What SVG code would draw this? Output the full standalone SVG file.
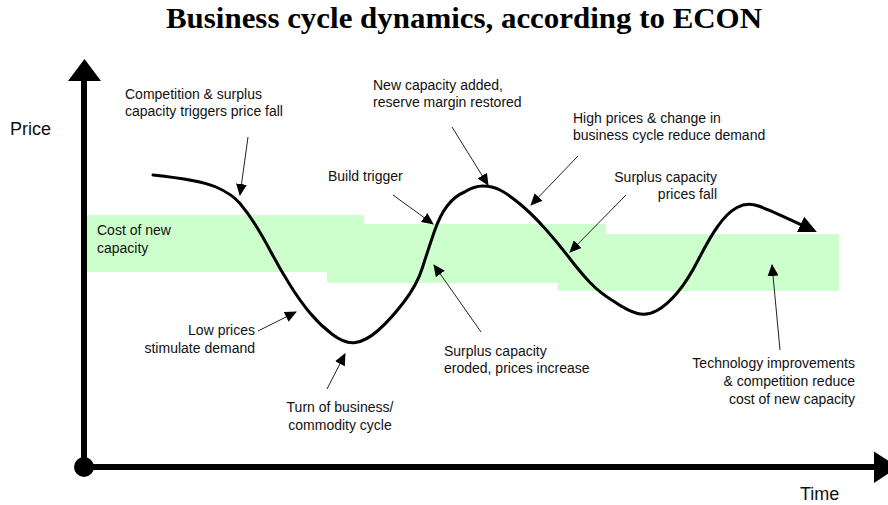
<svg xmlns="http://www.w3.org/2000/svg" width="888" height="505" viewBox="0 0 888 505">
  <defs>
    <style>
      .title { font-family: "Liberation Serif", "Times New Roman", serif; font-weight: bold; font-size: 29px; fill: #000; }
      .lbl { font-family: "Liberation Sans", Arial, sans-serif; font-size: 14px; fill: #111; }
      .axis-lbl { font-family: "Liberation Sans", Arial, sans-serif; font-size: 18px; fill: #111; }
      .band { fill: #ccffcc; }
      .axis { stroke: #000; stroke-width: 6; fill: none; }
      .curve { stroke: #000; stroke-width: 3; fill: none; stroke-linecap: round; stroke-linejoin: round; }
      .note { stroke: #222; stroke-width: 1; fill: none; }
      .end { text-anchor: end; }
      .mid { text-anchor: middle; }
    </style>
    <marker id="tip" viewBox="0 0 12 11" refX="11" refY="5.5" markerWidth="12" markerHeight="11" markerUnits="userSpaceOnUse" orient="auto">
      <path d="M0,0 L12,5.5 L0,11 z" fill="#000"/>
    </marker>
    <marker id="bigtip" viewBox="0 0 18 17" refX="6" refY="8.5" markerWidth="18" markerHeight="17" markerUnits="userSpaceOnUse" orient="auto">
      <path d="M0,0 L18,8.5 L0,17 z" fill="#000"/>
    </marker>
  </defs>

  <rect width="888" height="505" fill="#fff"/>

  <text class="title" x="166" y="28" textLength="596" lengthAdjust="spacingAndGlyphs">Business cycle dynamics, according to ECON</text>

  <!-- cost-of-new-capacity bands, stepping down over time -->
  <g id="cost-bands">
    <rect class="band" x="87" y="215" width="277" height="57"/>
    <rect class="band" x="327" y="224" width="279" height="59"/>
    <rect class="band" x="558" y="234" width="281" height="57"/>
    <text class="lbl" x="97" y="235">Cost of new</text>
    <text class="lbl" x="97" y="253">capacity</text>
  </g>

  <!-- axes -->
  <g id="axes">
    <line class="axis" x1="84" y1="467" x2="84" y2="78"/>
    <polygon points="68,81 84.5,59 101,81" fill="#000"/>
    <line class="axis" x1="84" y1="467" x2="877" y2="467"/>
    <polygon points="874,451.5 898,467 874,483" fill="#000"/>
    <circle cx="84" cy="467" r="10" fill="#000"/>
    <text class="axis-lbl" x="10" y="135">Price</text>
    <text class="axis-lbl" x="800" y="500">Time</text>
  </g>

  <!-- price path -->
  <g id="price-curve">
    <path class="curve" marker-end="url(#bigtip)" d="M153,175 Q200,180 216,187 Q232,194 240,203.5 Q248,213 255.5,225 Q263,237 271.5,253 Q280,269 290,285 Q300,301 310,313 Q320,325 332.5,334.5 Q345,344 355.5,342.5 Q366,341 378,330.5 Q390,320 403.5,302.5 Q417,285 422.5,267.5 Q428,250 434,232.5 Q440,215 447.5,205.5 Q455,196 464.5,192 Q474,186 483,186 Q492,186 500,190 Q508,194 520,204 Q532,214 545,228.5 Q558,243 569,257.5 Q580,272 590,282.5 Q600,293 614,301.5 Q628,311 637.5,313.5 Q647,316 657,310.5 Q667,305 677.5,292.5 Q688,280 699,258.5 Q710,237 718,226 Q727,213 737,207.5 Q747,202 758.5,206 Q770,210 806,227"/>
  </g>

  <!-- annotation leaders -->
  <g id="connectors">
    <line class="note" marker-end="url(#tip)" x1="248" y1="137" x2="240" y2="195"/>
    <line class="note" marker-end="url(#tip)" x1="393" y1="195" x2="433" y2="224"/>
    <line class="note" marker-end="url(#tip)" x1="452" y1="127" x2="488" y2="185"/>
    <line class="note" marker-end="url(#tip)" x1="578" y1="156" x2="531" y2="205"/>
    <line class="note" marker-end="url(#tip)" x1="626" y1="195" x2="570" y2="252"/>
    <line class="note" marker-end="url(#tip)" x1="481" y1="332" x2="434" y2="265"/>
    <line class="note" marker-end="url(#tip)" x1="258" y1="331" x2="296" y2="312"/>
    <line class="note" marker-end="url(#tip)" x1="327" y1="389" x2="345" y2="354"/>
    <line class="note" marker-end="url(#tip)" x1="780" y1="350" x2="772" y2="265"/>
  </g>

  <g id="note-price-fall">
    <text class="lbl" x="125" y="99">Competition &amp; surplus</text>
    <text class="lbl" x="125" y="116">capacity triggers price fall</text>
  </g>
  <g id="note-build-trigger">
    <text class="lbl" x="328" y="181">Build trigger</text>
  </g>
  <g id="note-capacity-added">
    <text class="lbl" x="373" y="90">New capacity added,</text>
    <text class="lbl" x="373" y="107">reserve margin restored</text>
  </g>
  <g id="note-reduce-demand">
    <text class="lbl" x="573" y="123">High prices &amp; change in</text>
    <text class="lbl" x="573" y="140">business cycle reduce demand</text>
  </g>
  <g id="note-surplus-fall">
    <text class="lbl end" x="717" y="182">Surplus capacity</text>
    <text class="lbl end" x="717" y="199">prices fall</text>
  </g>
  <g id="note-surplus-eroded">
    <text class="lbl" x="444" y="356">Surplus capacity</text>
    <text class="lbl" x="444" y="373">eroded, prices increase</text>
  </g>
  <g id="note-low-prices">
    <text class="lbl end" x="255" y="335">Low prices</text>
    <text class="lbl end" x="255" y="353">stimulate demand</text>
  </g>
  <g id="note-turn">
    <text class="lbl mid" x="340" y="412">Turn of business/</text>
    <text class="lbl mid" x="340" y="430">commodity cycle</text>
  </g>
  <g id="note-technology">
    <text class="lbl end" x="855" y="368">Technology improvements</text>
    <text class="lbl end" x="855" y="386">&amp; competition reduce</text>
    <text class="lbl end" x="855" y="404">cost of new capacity</text>
  </g>
</svg>
